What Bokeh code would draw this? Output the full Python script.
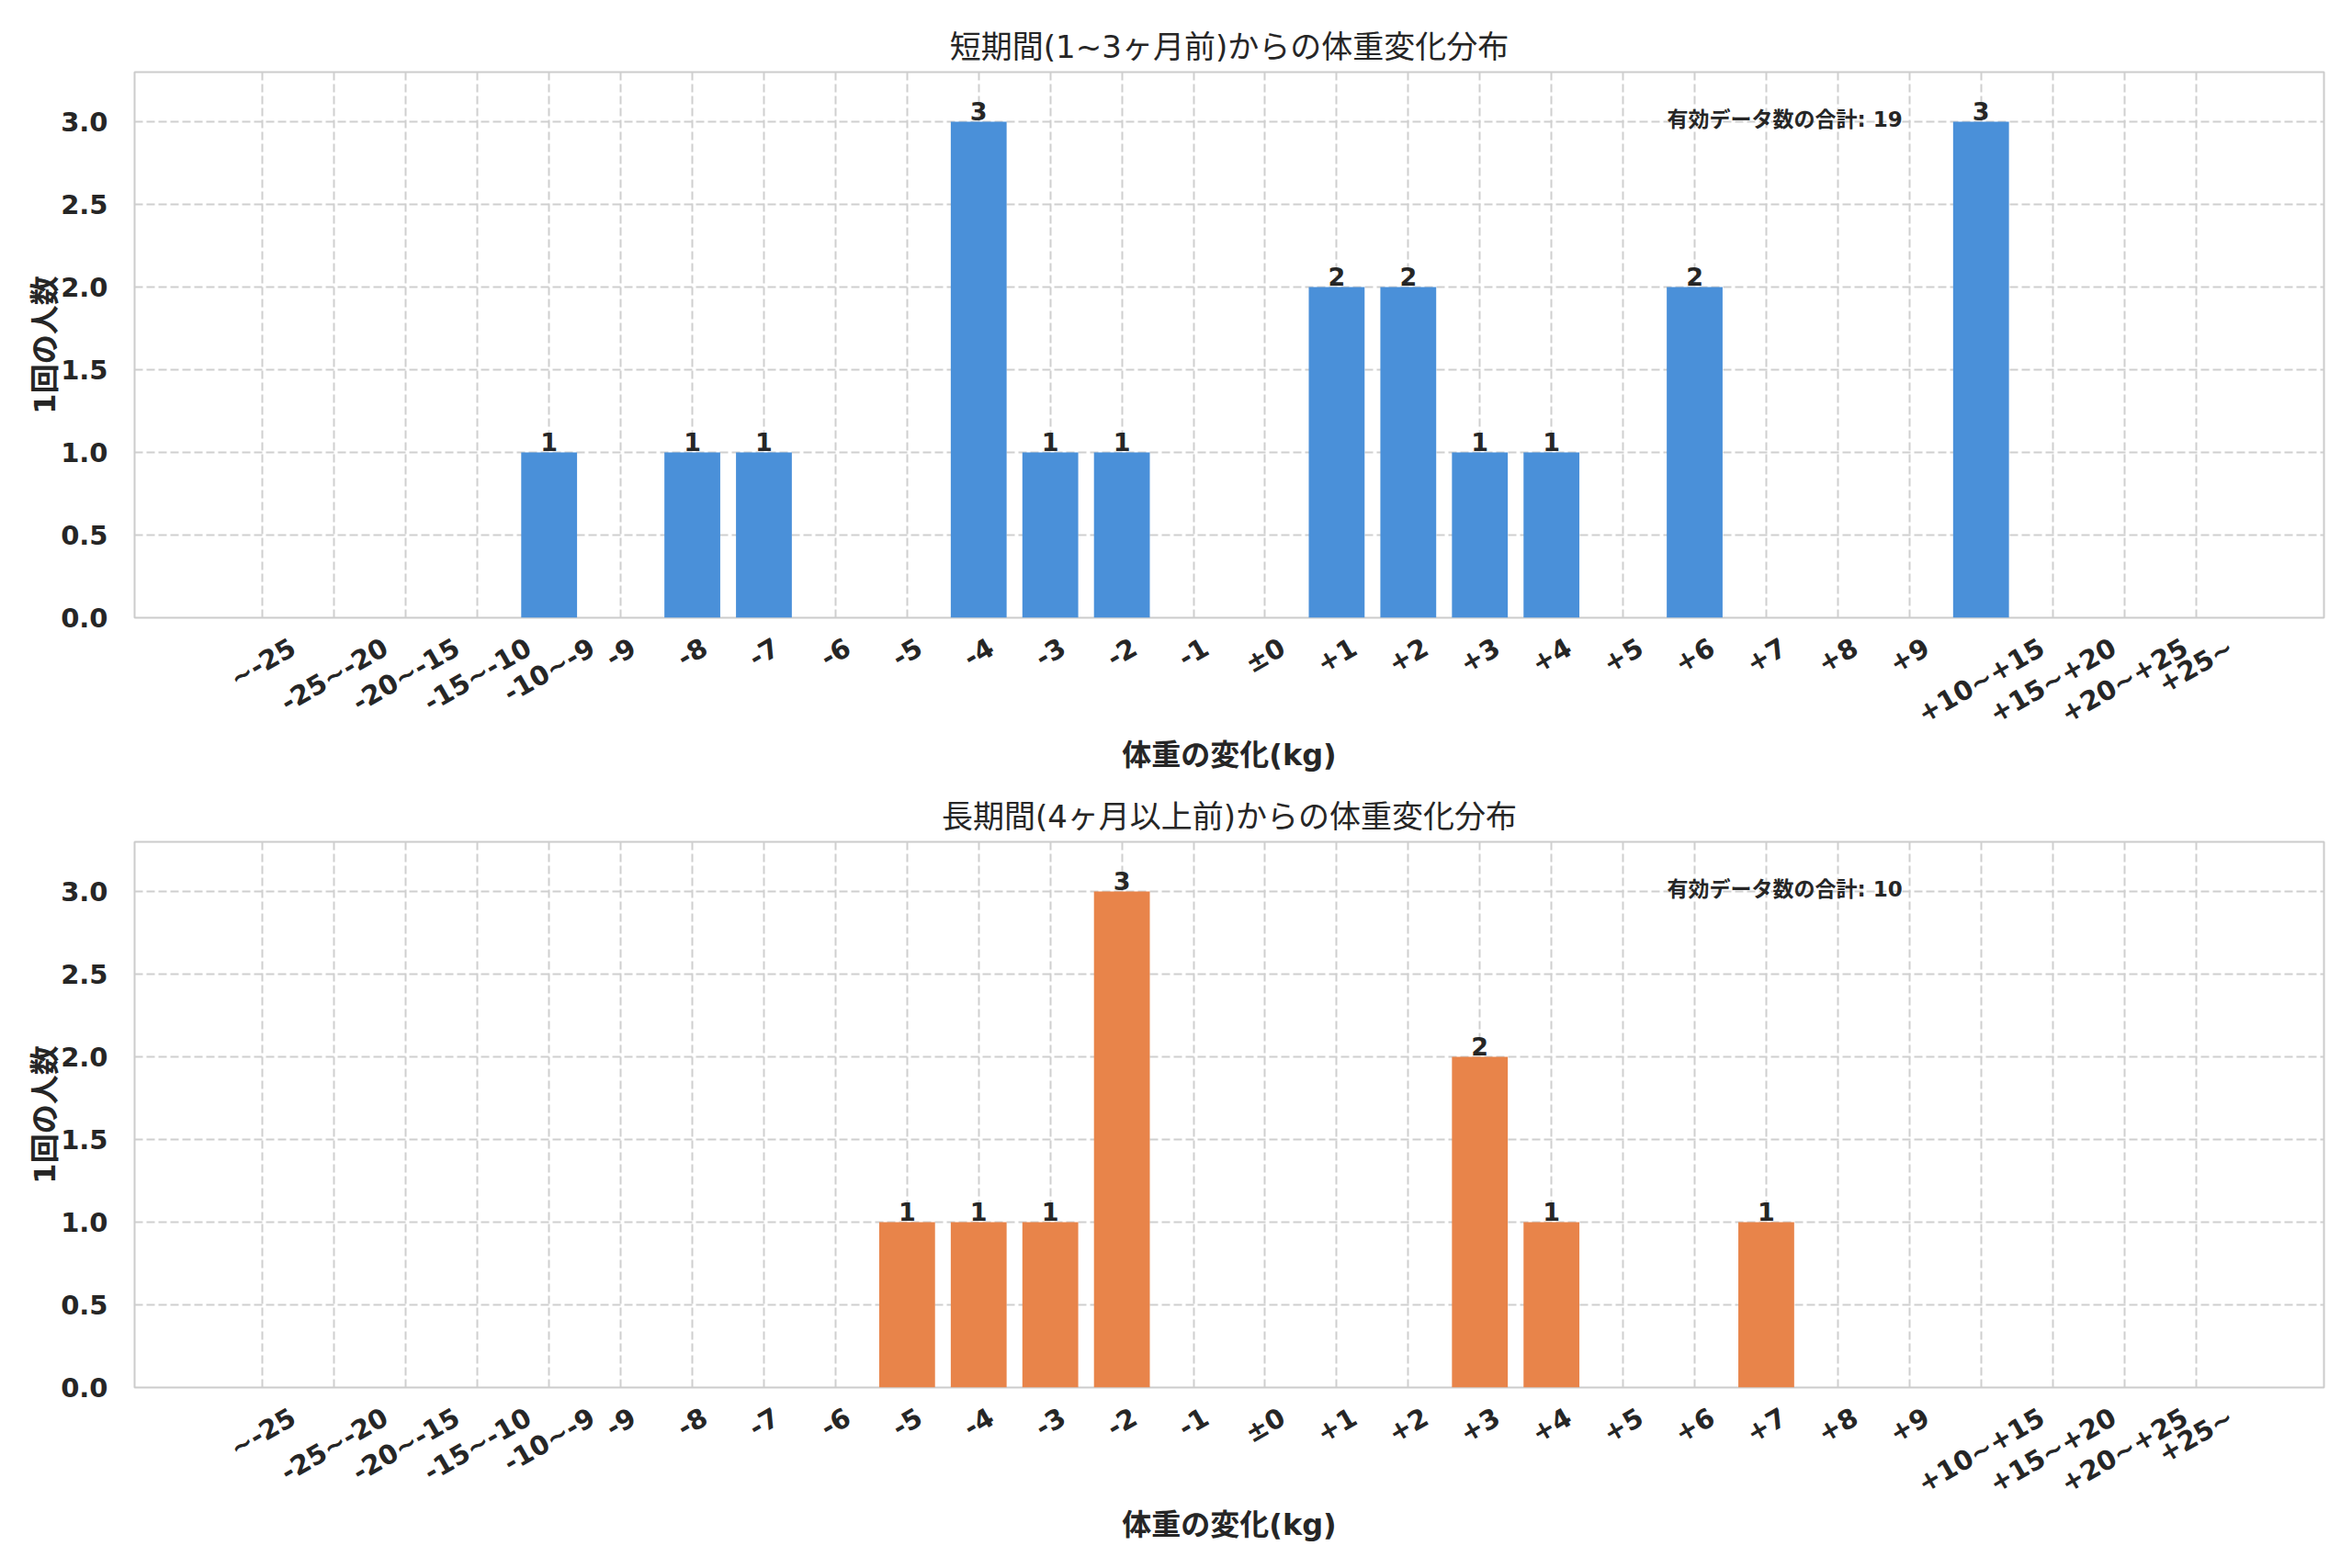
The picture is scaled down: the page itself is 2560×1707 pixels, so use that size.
import math
from bokeh.plotting import figure
from bokeh.models import (ColumnDataSource, LabelSet, Label, FixedTicker, PrintfTickFormatter,
                          Range1d, LinearAxis)
from bokeh.layouts import column
from bokeh.embed import file_html
from bokeh.resources import INLINE
from bokeh.core.properties import value

# ---------------- data ----------------
categories = ["~-25", "-25~-20", "-20~-15", "-15~-10", "-10~-9", "-9", "-8", "-7", "-6", "-5",
              "-4", "-3", "-2", "-1", "±0", "+1", "+2", "+3", "+4", "+5", "+6", "+7", "+8",
              "+9", "+10~+15", "+15~+20", "+20~+25", "+25~"]
short_counts = [0, 0, 0, 0, 1, 0, 1, 1, 0, 0, 3, 1, 1, 0, 0, 2, 2, 1, 1, 0, 2, 0, 0, 0, 3, 0, 0, 0]
long_counts = [0, 0, 0, 0, 0, 0, 0, 0, 0, 1, 1, 1, 3, 0, 0, 0, 0, 2, 1, 0, 0, 1, 0, 0, 0, 0, 0, 0]
y_ticks = [0.0, 0.5, 1.0, 1.5, 2.0, 2.5, 3.0]
titles = ["短期間(1~3ヶ月前)からの体重変化分布", "長期間(4ヶ月以上前)からの体重変化分布"]
x_label = "体重の変化(kg)"
y_label = "1回の人数"
note_label = "有効データ数の合計"
colors = ["#4a90d9", "#e8844a"]

# ---------------- style ----------------
FONT = "DejaVu Sans, Noto Sans CJK JP"
TXT = "#262626"
TICK_PX = 29
W, BL, BR = 2552, 146, 23
FRAME_W = W - BL - BR
ANG = math.pi / 6
CW = {"-": 0.415, "~": 0.838, "+": 0.838, "±": 0.838}
for d in "0123456789":
    CW[d] = 0.696


def text_width(s, size):
    return size * sum(CW.get(c, 0.7) for c in s)


n = len(categories)
pad = 0.05 * (n - 1 + 0.8)
x0, x1 = -0.4 - pad, (n - 1) + 0.4 + pad
ymax = max(max(short_counts), max(long_counts)) * 1.1
px_per_unit = FRAME_W / (x1 - x0)


def style_axis(a):
    a.axis_line_color = None
    a.major_tick_line_color = None
    a.minor_tick_line_color = None
    a.major_label_text_font = FONT
    a.major_label_text_font_size = f"{TICK_PX}px"
    a.major_label_text_font_style = "bold"
    a.major_label_text_color = TXT
    a.axis_label_text_font = FONT
    a.axis_label_text_font_size = "32px"
    a.axis_label_text_font_style = "bold"
    a.axis_label_text_color = TXT


def make_panel(counts, title, color, height, bt, bb):
    p = figure(width=W, height=height, x_range=Range1d(x0, x1), y_range=Range1d(0, ymax),
               output_backend="svg", toolbar_location=None,
               min_border_left=BL, min_border_right=BR, min_border_top=bt, min_border_bottom=bb)
    p.background_fill_color = "white"
    p.border_fill_color = "white"
    p.outline_line_color = "#cccccc"
    p.outline_line_width = 2

    p.title.text = title
    p.title.align = "center"
    p.title.text_font = FONT
    p.title.text_font_size = "34px"
    p.title.text_font_style = "normal"
    p.title.text_color = TXT
    p.title.standoff = 15

    p.xgrid.ticker = FixedTicker(ticks=list(range(n)))
    for g in (p.xgrid, p.ygrid):
        g.grid_line_color = "#cfcfcf"
        g.grid_line_width = 2
        g.grid_line_dash = "9 4"
    p.xaxis.visible = False

    ya = p.yaxis[0]
    style_axis(ya)
    ya.ticker = FixedTicker(ticks=y_ticks)
    ya.formatter = PrintfTickFormatter(format="%.1f")
    ya.major_label_standoff = 23
    ya.axis_label = y_label
    ya.axis_label_standoff = -5

    # rotated category labels, shifted so that each label is centred on its bar
    shifted = [i + (text_width(c, TICK_PX) / 2 * math.cos(ANG)) / px_per_unit
               for i, c in enumerate(categories)]
    xa = LinearAxis(ticker=FixedTicker(ticks=shifted),
                    major_label_overrides={t: c for t, c in zip(shifted, categories)},
                    major_label_orientation=ANG, major_label_standoff=24,
                    axis_label=x_label, axis_label_standoff=-9)
    style_axis(xa)
    p.add_layout(xa, "below")

    src = ColumnDataSource(dict(x=list(range(n)), top=counts))
    p.vbar(x="x", top="top", width=0.78, source=src, fill_color=color, line_color=None)

    nz = [i for i, c in enumerate(counts) if c > 0]
    lab_src = ColumnDataSource(dict(x=nz, y=[counts[i] for i in nz], text=[str(counts[i]) for i in nz]))
    p.add_layout(LabelSet(x="x", y="y", text="text", source=lab_src, y_offset=1.5,
                          text_align="center", text_baseline="alphabetic",
                          text_font=value(FONT), text_font_size="27px", text_font_style="bold",
                          text_color=TXT))

    p.add_layout(Label(x=x0 + 0.7 * (x1 - x0), y=0.9 * ymax, y_offset=8,
                       text=f"{note_label}: {sum(counts)}",
                       text_align="left", text_baseline="alphabetic",
                       text_font=FONT, text_font_size="23px", text_font_style="bold",
                       text_color=TXT))
    return p


p1 = make_panel(short_counts, titles[0], colors[0], 78 + 594 + 186, 78, 186)
p2 = make_panel(long_counts, titles[1], colors[1], 58 + 594 + 186, 58, 186)
layout = column(p1, p2, spacing=0)

open("out.html", "w").write(file_html(layout, INLINE))
